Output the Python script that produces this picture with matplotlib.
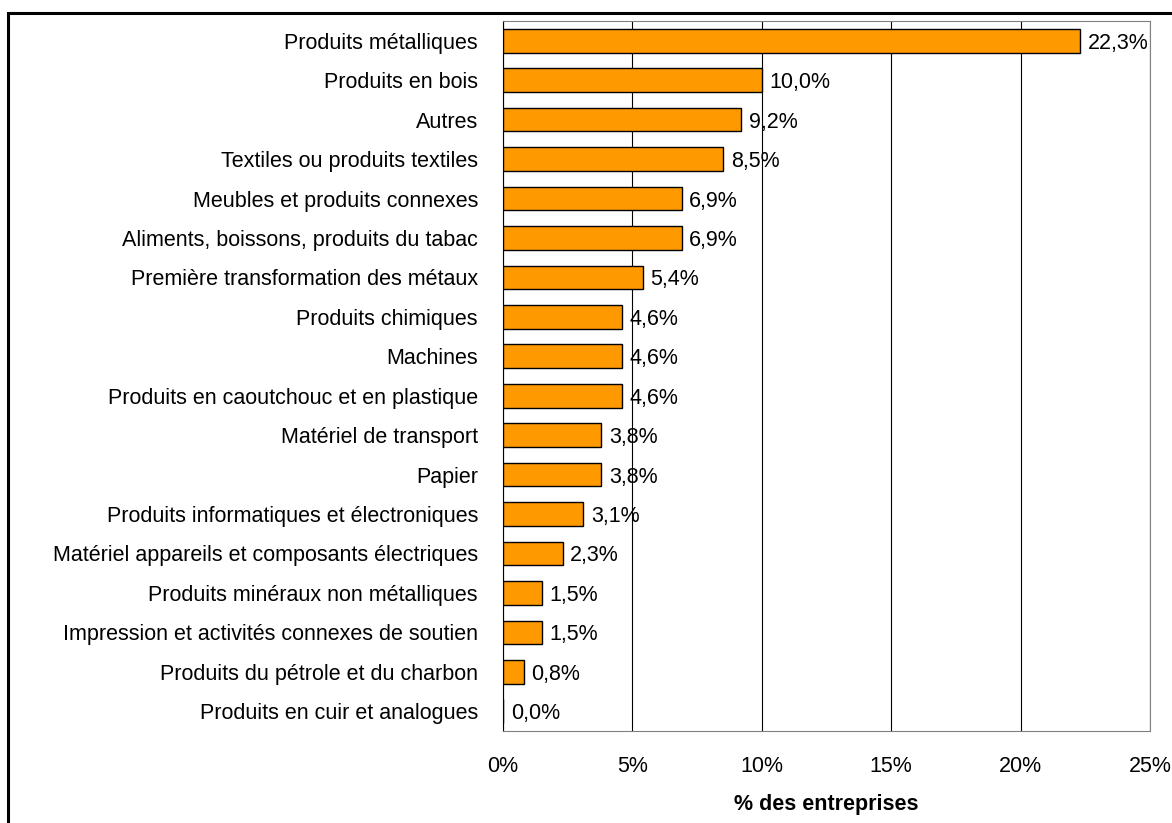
import matplotlib.pyplot as plt
from matplotlib.patches import Rectangle

plt.rcParams['font.family'] = ['Liberation Sans', 'DejaVu Sans']

categories = [
    "Produits métalliques",
    "Produits en bois",
    "Autres",
    "Textiles ou produits textiles",
    "Meubles et produits connexes",
    "Aliments, boissons, produits du tabac",
    "Première transformation des métaux",
    "Produits chimiques",
    "Machines",
    "Produits en caoutchouc et en plastique",
    "Matériel de transport",
    "Papier",
    "Produits informatiques et électroniques",
    "Matériel appareils et composants électriques",
    "Produits minéraux non métalliques",
    "Impression et activités connexes de soutien",
    "Produits du pétrole et du charbon",
    "Produits en cuir et analogues",
]
values = [22.3, 10.0, 9.2, 8.5, 6.9, 6.9, 5.4, 4.6, 4.6, 4.6, 3.8, 3.8, 3.1, 2.3, 1.5, 1.5, 0.8, 0.0]
xticks = [0, 5, 10, 15, 20, 25]

fs = 15.5
fig = plt.figure(figsize=(11.72, 8.23), dpi=100)
ax = fig.add_axes([503 / 1172, 1 - 731 / 823, (1150 - 503) / 1172, (731 - 21) / 823])

y = list(range(len(categories)))
ax.barh(y, values, height=0.6, color='#FF9900', edgecolor='black', linewidth=1, zorder=3)
ax.set_ylim(len(categories) - 0.5, -0.5)
ax.set_xlim(0, 25)
ax.set_yticks(y)
ax.set_yticklabels(categories, fontsize=fs)
ax.set_xticks(xticks)
ax.set_xticklabels([f"{t}%" for t in xticks], fontsize=fs)
ax.tick_params(axis='both', length=0)
ax.tick_params(axis='x', pad=18)
ax.tick_params(axis='y', pad=18)
ax.xaxis.grid(True, color='black', linewidth=0.8, zorder=0)
ax.set_axisbelow(True)

for s in ['top', 'right', 'bottom']:
    ax.spines[s].set_color('#808080')
ax.spines['left'].set_color('black')

# étiquettes de valeur, format français
for yi, v in zip(y, values):
    ax.text(v + 0.3, yi, f"{v:.1f}%".replace('.', ','), va='center_baseline', ha='left',
            fontsize=fs, zorder=4)

ax.set_xlabel("% des entreprises", fontsize=fs, fontweight='bold', labelpad=12)

# cadre autour du graphique
fig.patches.append(Rectangle((8 / 1172, -0.1), 1.1, 1 - 13 / 823 + 0.1,
                             transform=fig.transFigure, fill=False,
                             edgecolor='black', linewidth=2.2))

fig.savefig('out.png', dpi=100)
